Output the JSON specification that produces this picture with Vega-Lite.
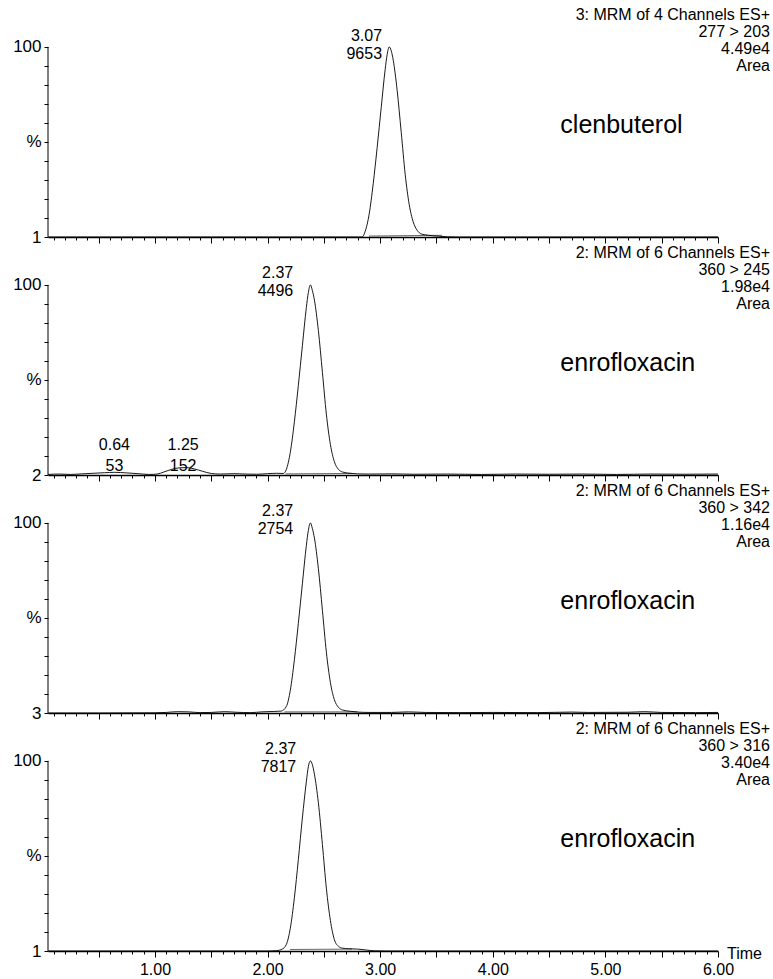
{
  "$schema": "https://vega.github.io/schema/vega-lite/v6.json",
  "padding": {"top": 7, "left": 5, "right": 0, "bottom": 26},
  "background": "white",
  "config": {
    "view": {"stroke": null},
    "font": "Liberation Sans",
    "axis": {"grid": false, "tickColor": "black", "labelColor": "black", "domainColor": "black", "title": null, "labelFont": "Liberation Sans", "labelOverlap": false},
    "text": {"color": "black", "font": "Liberation Sans"}
  },
  "datasets": {
    "trace1": [
      {"t": 0.05, "y": 0}, {"t": 1.0, "y": 0}, {"t": 2.0, "y": 0}, {"t": 2.84, "y": 0}, {"t": 2.867, "y": 3}, {"t": 2.902, "y": 12}, {"t": 2.938, "y": 28}, {"t": 2.973, "y": 47}, {"t": 3.009, "y": 68}, {"t": 3.044, "y": 88}, {"t": 3.062, "y": 96}, {"t": 3.08, "y": 100}, {"t": 3.098, "y": 98}, {"t": 3.116, "y": 93}, {"t": 3.151, "y": 77}, {"t": 3.187, "y": 55}, {"t": 3.222, "y": 33}, {"t": 3.258, "y": 17}, {"t": 3.293, "y": 8}, {"t": 3.329, "y": 3.5}, {"t": 3.364, "y": 1.6}, {"t": 3.43, "y": 0.9}, {"t": 3.52, "y": 0.4}, {"t": 3.6, "y": 0.1}, {"t": 3.7, "y": 0}, {"t": 4.5, "y": 0}, {"t": 6.0, "y": 0}
    ],
    "base1": [{"t": 2.9, "y": 0.5}, {"t": 3.55, "y": 0.9}],
    "trace2": [
      {"t": 0.05, "y": 0.3}, {"t": 0.15, "y": 0.5}, {"t": 0.25, "y": 0.3}, {"t": 0.35, "y": 0.6}, {"t": 0.45, "y": 0.9}, {"t": 0.55, "y": 1.2}, {"t": 0.64, "y": 1.4}, {"t": 0.75, "y": 1.1}, {"t": 0.85, "y": 0.7}, {"t": 0.95, "y": 0.3}, {"t": 1.02, "y": 0.5}, {"t": 1.08, "y": 1.6}, {"t": 1.15, "y": 3.0}, {"t": 1.22, "y": 3.8}, {"t": 1.28, "y": 3.9}, {"t": 1.35, "y": 3.2}, {"t": 1.42, "y": 2.0}, {"t": 1.5, "y": 0.8}, {"t": 1.58, "y": 0.5}, {"t": 1.7, "y": 0.7}, {"t": 1.8, "y": 0.5}, {"t": 1.9, "y": 0.4}, {"t": 2.0, "y": 0.7}, {"t": 2.08, "y": 0.9}, {"t": 2.14, "y": 0.8},
      {"t": 2.167, "y": 3}, {"t": 2.202, "y": 12}, {"t": 2.238, "y": 28}, {"t": 2.273, "y": 47}, {"t": 2.309, "y": 68}, {"t": 2.344, "y": 88}, {"t": 2.362, "y": 96}, {"t": 2.38, "y": 100}, {"t": 2.398, "y": 97}, {"t": 2.416, "y": 92}, {"t": 2.451, "y": 76}, {"t": 2.487, "y": 54}, {"t": 2.522, "y": 32}, {"t": 2.558, "y": 16}, {"t": 2.593, "y": 7}, {"t": 2.629, "y": 3}, {"t": 2.664, "y": 1.6}, {"t": 2.735, "y": 0.9}, {"t": 2.8, "y": 0.6},
      {"t": 2.9, "y": 0.5}, {"t": 3.1, "y": 0.6}, {"t": 3.3, "y": 0.4}, {"t": 3.6, "y": 0.5}, {"t": 3.9, "y": 0.3}, {"t": 4.2, "y": 0.5}, {"t": 4.5, "y": 0.4}, {"t": 4.8, "y": 0.5}, {"t": 5.1, "y": 0.3}, {"t": 5.4, "y": 0.5}, {"t": 5.7, "y": 0.4}, {"t": 6.0, "y": 0.5}
    ],
    "base2": [{"t": 2.16, "y": 0.6}, {"t": 2.75, "y": 0.8}],
    "trace3": [
      {"t": 0.05, "y": 0}, {"t": 0.5, "y": 0}, {"t": 1.0, "y": 0.1}, {"t": 1.1, "y": 0.3}, {"t": 1.2, "y": 0.7}, {"t": 1.3, "y": 0.6}, {"t": 1.4, "y": 0.2}, {"t": 1.5, "y": 0.3}, {"t": 1.62, "y": 0.7}, {"t": 1.72, "y": 0.4}, {"t": 1.85, "y": 0.2}, {"t": 1.95, "y": 0.6}, {"t": 2.05, "y": 0.8}, {"t": 2.12, "y": 1.0},
      {"t": 2.167, "y": 3.5}, {"t": 2.202, "y": 12}, {"t": 2.238, "y": 28}, {"t": 2.273, "y": 47}, {"t": 2.309, "y": 68}, {"t": 2.344, "y": 88}, {"t": 2.362, "y": 96}, {"t": 2.38, "y": 100}, {"t": 2.398, "y": 97}, {"t": 2.416, "y": 92}, {"t": 2.451, "y": 76}, {"t": 2.487, "y": 54}, {"t": 2.522, "y": 32}, {"t": 2.558, "y": 16}, {"t": 2.593, "y": 7}, {"t": 2.629, "y": 3}, {"t": 2.664, "y": 1.6}, {"t": 2.735, "y": 0.9}, {"t": 2.8, "y": 0.5},
      {"t": 2.9, "y": 0.3}, {"t": 3.1, "y": 0.3}, {"t": 3.25, "y": 0.6}, {"t": 3.4, "y": 0.3}, {"t": 3.7, "y": 0.2}, {"t": 4.0, "y": 0.3}, {"t": 4.4, "y": 0.2}, {"t": 4.7, "y": 0.5}, {"t": 4.85, "y": 0.3}, {"t": 5.2, "y": 0.4}, {"t": 5.35, "y": 0.7}, {"t": 5.5, "y": 0.3}, {"t": 5.8, "y": 0.2}, {"t": 6.0, "y": 0.3}
    ],
    "base3": [{"t": 2.15, "y": 0.6}, {"t": 2.8, "y": 0.6}],
    "trace4": [
      {"t": 0.05, "y": 0}, {"t": 1.0, "y": 0}, {"t": 2.0, "y": 0}, {"t": 2.08, "y": 0.2}, {"t": 2.13, "y": 1.0}, {"t": 2.167, "y": 3.5}, {"t": 2.202, "y": 12}, {"t": 2.238, "y": 28}, {"t": 2.273, "y": 48}, {"t": 2.309, "y": 70}, {"t": 2.344, "y": 89}, {"t": 2.362, "y": 97}, {"t": 2.38, "y": 100}, {"t": 2.398, "y": 98}, {"t": 2.416, "y": 93}, {"t": 2.451, "y": 78}, {"t": 2.487, "y": 56}, {"t": 2.522, "y": 33}, {"t": 2.558, "y": 16}, {"t": 2.593, "y": 6}, {"t": 2.629, "y": 2.5}, {"t": 2.664, "y": 1.5}, {"t": 2.72, "y": 1.2}, {"t": 2.8, "y": 1.0}, {"t": 2.88, "y": 0.5}, {"t": 2.95, "y": 0.1}, {"t": 3.05, "y": 0}, {"t": 6.0, "y": 0}
    ],
    "base4": [{"t": 2.2, "y": 0.8}, {"t": 2.75, "y": 1.0}],
    "peaks1": [{"rt": 3.07, "h": 100, "label": "3.07\n9653"}],
    "peaks2": [{"rt": 2.37, "h": 100, "label": "2.37\n4496"}],
    "small2": [{"rt": 0.64, "label": "0.64\n53"}, {"rt": 1.25, "label": "1.25\n152"}],
    "peaks3": [{"rt": 2.37, "h": 100, "label": "2.37\n2754"}],
    "peaks4": [{"rt": 2.37, "h": 100, "label": "2.37\n7817"}],
    "info1": [{"header": "3: MRM of 4 Channels ES+\n277 > 203\n4.49e4\nArea", "compound": "clenbuterol"}],
    "info2": [{"header": "2: MRM of 6 Channels ES+\n360 > 245\n1.98e4\nArea", "compound": "enrofloxacin"}],
    "info3": [{"header": "2: MRM of 6 Channels ES+\n360 > 342\n1.16e4\nArea", "compound": "enrofloxacin"}],
    "info4": [{"header": "2: MRM of 6 Channels ES+\n360 > 316\n3.40e4\nArea", "compound": "enrofloxacin"}],
    "axisword": [{"word": "Time"}]
  },
  "bounds": "flush",
  "spacing": 8,
  "vconcat": [
    {
      "width": 670, "height": 230,
      "layer": [
        {"data": {"name": "trace1"}, "mark": {"type": "line", "color": "black", "strokeWidth": 0.9, "interpolate": "monotone"},
         "encoding": {
           "x": {"field": "t", "type": "quantitative", "scale": {"domain": [0.05, 6], "nice": false, "zero": false},
                 "axis": {"tickCount": 200, "values": [0.1,0.2,0.3,0.4,0.5,0.6,0.7,0.8,0.9,1,1.1,1.2,1.3,1.4,1.5,1.6,1.7,1.8,1.9,2,2.1,2.2,2.3,2.4,2.5,2.6,2.7,2.8,2.9,3,3.1,3.2,3.3,3.4,3.5,3.6,3.7,3.8,3.9,4,4.1,4.2,4.3,4.4,4.5,4.6,4.7,4.8,4.9,5,5.1,5.2,5.3,5.4,5.5,5.6,5.7,5.8,5.9,6], "labels": false, "domainWidth": 1.5, "tickWidth": 1, "tickSize": {"condition": {"test": "abs(datum.value*2-round(datum.value*2))<0.01", "value": 6}, "value": 3}}},
           "y": {"field": "y", "type": "quantitative", "scale": {"domain": [0, 121], "nice": false},
                 "axis": {"tickCount": 200, "values": [0,10,20,30,40,50,60,70,80,90,100], "domain": false, "tickSize": 4, "tickWidth": 1, "labelFontSize": 17, "labelPadding": 3, "minExtent": 43, "labelOverlap": false, "labelExpr": "datum.value==100?'100':datum.value==50?'%':datum.value==0?'1':''"}}
         }},
        {"data": {"name": "base1"}, "mark": {"type": "line", "color": "black", "strokeWidth": 0.6}, "encoding": {"x": {"field": "t", "type": "quantitative"}, "y": {"field": "y", "type": "quantitative"}}},
        {"data": {"name": "info1"}, "mark": {"type": "rule", "color": "black", "strokeWidth": 1}, "encoding": {"x": {"datum": 0.05, "type": "quantitative"}, "y": {"datum": 0, "type": "quantitative"}, "y2": {"datum": 100}}},
        {"data": {"name": "peaks1"}, "mark": {"type": "text", "align": "right", "baseline": "middle", "dx": -6, "dy": -11, "lineBreak": "\n", "lineHeight": 18, "fontSize": 16},
         "encoding": {"x": {"field": "rt", "type": "quantitative"}, "y": {"field": "h", "type": "quantitative"}, "text": {"field": "label"}}},
        {"data": {"name": "info1"}, "mark": {"type": "text", "align": "right", "baseline": "top", "dx": 52, "lineBreak": "\n", "lineHeight": 17, "fontSize": 16},
         "encoding": {"x": {"datum": 6, "type": "quantitative"}, "y": {"datum": 121, "type": "quantitative"}, "text": {"field": "header"}}},
        {"data": {"name": "info1"}, "mark": {"type": "text", "align": "left", "baseline": "middle", "fontSize": 25},
         "encoding": {"x": {"datum": 4.6, "type": "quantitative"}, "y": {"datum": 59, "type": "quantitative"}, "text": {"field": "compound"}}}
      ]
    },
    {
      "width": 670, "height": 230,
      "layer": [
        {"data": {"name": "trace2"}, "mark": {"type": "line", "color": "black", "strokeWidth": 0.9, "interpolate": "monotone"},
         "encoding": {
           "x": {"field": "t", "type": "quantitative", "scale": {"domain": [0.05, 6], "nice": false, "zero": false},
                 "axis": {"tickCount": 200, "values": [0.1,0.2,0.3,0.4,0.5,0.6,0.7,0.8,0.9,1,1.1,1.2,1.3,1.4,1.5,1.6,1.7,1.8,1.9,2,2.1,2.2,2.3,2.4,2.5,2.6,2.7,2.8,2.9,3,3.1,3.2,3.3,3.4,3.5,3.6,3.7,3.8,3.9,4,4.1,4.2,4.3,4.4,4.5,4.6,4.7,4.8,4.9,5,5.1,5.2,5.3,5.4,5.5,5.6,5.7,5.8,5.9,6], "labels": false, "domainWidth": 1.5, "tickWidth": 1, "tickSize": {"condition": {"test": "abs(datum.value*2-round(datum.value*2))<0.01", "value": 6}, "value": 3}}},
           "y": {"field": "y", "type": "quantitative", "scale": {"domain": [0, 121], "nice": false},
                 "axis": {"tickCount": 200, "values": [0,10,20,30,40,50,60,70,80,90,100], "domain": false, "tickSize": 4, "tickWidth": 1, "labelFontSize": 17, "labelPadding": 3, "minExtent": 43, "labelOverlap": false, "labelExpr": "datum.value==100?'100':datum.value==50?'%':datum.value==0?'2':''"}}
         }},
        {"data": {"name": "base2"}, "mark": {"type": "line", "color": "black", "strokeWidth": 0.6}, "encoding": {"x": {"field": "t", "type": "quantitative"}, "y": {"field": "y", "type": "quantitative"}}},
        {"data": {"name": "info2"}, "mark": {"type": "rule", "color": "black", "strokeWidth": 1}, "encoding": {"x": {"datum": 0.05, "type": "quantitative"}, "y": {"datum": 0, "type": "quantitative"}, "y2": {"datum": 100}}},
        {"data": {"name": "peaks2"}, "mark": {"type": "text", "align": "right", "baseline": "middle", "dx": -16, "dy": -12, "lineBreak": "\n", "lineHeight": 18, "fontSize": 16},
         "encoding": {"x": {"field": "rt", "type": "quantitative"}, "y": {"field": "h", "type": "quantitative"}, "text": {"field": "label"}}},
        {"data": {"name": "small2"}, "mark": {"type": "text", "align": "center", "baseline": "middle", "dy": -30, "lineBreak": "\n", "lineHeight": 21, "fontSize": 16},
         "encoding": {"x": {"field": "rt", "type": "quantitative"}, "y": {"datum": 0, "type": "quantitative"}, "text": {"field": "label"}}},
        {"data": {"name": "info2"}, "mark": {"type": "text", "align": "right", "baseline": "top", "dx": 52, "lineBreak": "\n", "lineHeight": 17, "fontSize": 16},
         "encoding": {"x": {"datum": 6, "type": "quantitative"}, "y": {"datum": 121, "type": "quantitative"}, "text": {"field": "header"}}},
        {"data": {"name": "info2"}, "mark": {"type": "text", "align": "left", "baseline": "middle", "fontSize": 25},
         "encoding": {"x": {"datum": 4.6, "type": "quantitative"}, "y": {"datum": 59, "type": "quantitative"}, "text": {"field": "compound"}}}
      ]
    },
    {
      "width": 670, "height": 230,
      "layer": [
        {"data": {"name": "trace3"}, "mark": {"type": "line", "color": "black", "strokeWidth": 0.9, "interpolate": "monotone"},
         "encoding": {
           "x": {"field": "t", "type": "quantitative", "scale": {"domain": [0.05, 6], "nice": false, "zero": false},
                 "axis": {"tickCount": 200, "values": [0.1,0.2,0.3,0.4,0.5,0.6,0.7,0.8,0.9,1,1.1,1.2,1.3,1.4,1.5,1.6,1.7,1.8,1.9,2,2.1,2.2,2.3,2.4,2.5,2.6,2.7,2.8,2.9,3,3.1,3.2,3.3,3.4,3.5,3.6,3.7,3.8,3.9,4,4.1,4.2,4.3,4.4,4.5,4.6,4.7,4.8,4.9,5,5.1,5.2,5.3,5.4,5.5,5.6,5.7,5.8,5.9,6], "labels": false, "domainWidth": 1.5, "tickWidth": 1, "tickSize": {"condition": {"test": "abs(datum.value*2-round(datum.value*2))<0.01", "value": 6}, "value": 3}}},
           "y": {"field": "y", "type": "quantitative", "scale": {"domain": [0, 121], "nice": false},
                 "axis": {"tickCount": 200, "values": [0,10,20,30,40,50,60,70,80,90,100], "domain": false, "tickSize": 4, "tickWidth": 1, "labelFontSize": 17, "labelPadding": 3, "minExtent": 43, "labelOverlap": false, "labelExpr": "datum.value==100?'100':datum.value==50?'%':datum.value==0?'3':''"}}
         }},
        {"data": {"name": "base3"}, "mark": {"type": "line", "color": "black", "strokeWidth": 0.6}, "encoding": {"x": {"field": "t", "type": "quantitative"}, "y": {"field": "y", "type": "quantitative"}}},
        {"data": {"name": "info3"}, "mark": {"type": "rule", "color": "black", "strokeWidth": 1}, "encoding": {"x": {"datum": 0.05, "type": "quantitative"}, "y": {"datum": 0, "type": "quantitative"}, "y2": {"datum": 100}}},
        {"data": {"name": "peaks3"}, "mark": {"type": "text", "align": "right", "baseline": "middle", "dx": -16, "dy": -12, "lineBreak": "\n", "lineHeight": 18, "fontSize": 16},
         "encoding": {"x": {"field": "rt", "type": "quantitative"}, "y": {"field": "h", "type": "quantitative"}, "text": {"field": "label"}}},
        {"data": {"name": "info3"}, "mark": {"type": "text", "align": "right", "baseline": "top", "dx": 52, "lineBreak": "\n", "lineHeight": 17, "fontSize": 16},
         "encoding": {"x": {"datum": 6, "type": "quantitative"}, "y": {"datum": 121, "type": "quantitative"}, "text": {"field": "header"}}},
        {"data": {"name": "info3"}, "mark": {"type": "text", "align": "left", "baseline": "middle", "fontSize": 25},
         "encoding": {"x": {"datum": 4.6, "type": "quantitative"}, "y": {"datum": 59, "type": "quantitative"}, "text": {"field": "compound"}}}
      ]
    },
    {
      "width": 670, "height": 230,
      "layer": [
        {"data": {"name": "trace4"}, "mark": {"type": "line", "color": "black", "strokeWidth": 0.9, "interpolate": "monotone"},
         "encoding": {
           "x": {"field": "t", "type": "quantitative", "scale": {"domain": [0.05, 6], "nice": false, "zero": false},
                 "axis": {"tickCount": 200, "values": [0.1,0.2,0.3,0.4,0.5,0.6,0.7,0.8,0.9,1,1.1,1.2,1.3,1.4,1.5,1.6,1.7,1.8,1.9,2,2.1,2.2,2.3,2.4,2.5,2.6,2.7,2.8,2.9,3,3.1,3.2,3.3,3.4,3.5,3.6,3.7,3.8,3.9,4,4.1,4.2,4.3,4.4,4.5,4.6,4.7,4.8,4.9,5,5.1,5.2,5.3,5.4,5.5,5.6,5.7,5.8,5.9,6], "labelExpr": "abs(datum.value-round(datum.value))<0.01 ? format(datum.value, '.2f') : ''", "labelFlush": false, "labelOverlap": false, "labelFontSize": 16, "labelPadding": 4, "domainWidth": 1.5, "tickWidth": 1, "tickSize": {"condition": {"test": "abs(datum.value*2-round(datum.value*2))<0.01", "value": 6}, "value": 3}}},
           "y": {"field": "y", "type": "quantitative", "scale": {"domain": [0, 121], "nice": false},
                 "axis": {"tickCount": 200, "values": [0,10,20,30,40,50,60,70,80,90,100], "domain": false, "tickSize": 4, "tickWidth": 1, "labelFontSize": 17, "labelPadding": 3, "minExtent": 43, "labelOverlap": false, "labelExpr": "datum.value==100?'100':datum.value==50?'%':datum.value==0?'1':''"}}
         }},
        {"data": {"name": "base4"}, "mark": {"type": "line", "color": "black", "strokeWidth": 0.6}, "encoding": {"x": {"field": "t", "type": "quantitative"}, "y": {"field": "y", "type": "quantitative"}}},
        {"data": {"name": "info4"}, "mark": {"type": "rule", "color": "black", "strokeWidth": 1}, "encoding": {"x": {"datum": 0.05, "type": "quantitative"}, "y": {"datum": 0, "type": "quantitative"}, "y2": {"datum": 100}}},
        {"data": {"name": "peaks4"}, "mark": {"type": "text", "align": "right", "baseline": "middle", "dx": -13, "dy": -12, "lineBreak": "\n", "lineHeight": 18, "fontSize": 16},
         "encoding": {"x": {"field": "rt", "type": "quantitative"}, "y": {"field": "h", "type": "quantitative"}, "text": {"field": "label"}}},
        {"data": {"name": "info4"}, "mark": {"type": "text", "align": "right", "baseline": "top", "dx": 52, "lineBreak": "\n", "lineHeight": 17, "fontSize": 16},
         "encoding": {"x": {"datum": 6, "type": "quantitative"}, "y": {"datum": 121, "type": "quantitative"}, "text": {"field": "header"}}},
        {"data": {"name": "info4"}, "mark": {"type": "text", "align": "left", "baseline": "middle", "fontSize": 25},
         "encoding": {"x": {"datum": 4.6, "type": "quantitative"}, "y": {"datum": 59, "type": "quantitative"}, "text": {"field": "compound"}}},
        {"data": {"name": "axisword"}, "mark": {"type": "text", "align": "left", "baseline": "middle", "dx": 9, "dy": 3, "fontSize": 16},
         "encoding": {"x": {"datum": 6, "type": "quantitative"}, "y": {"datum": 0, "type": "quantitative"}, "text": {"field": "word"}}}
      ]
    }
  ]
}
